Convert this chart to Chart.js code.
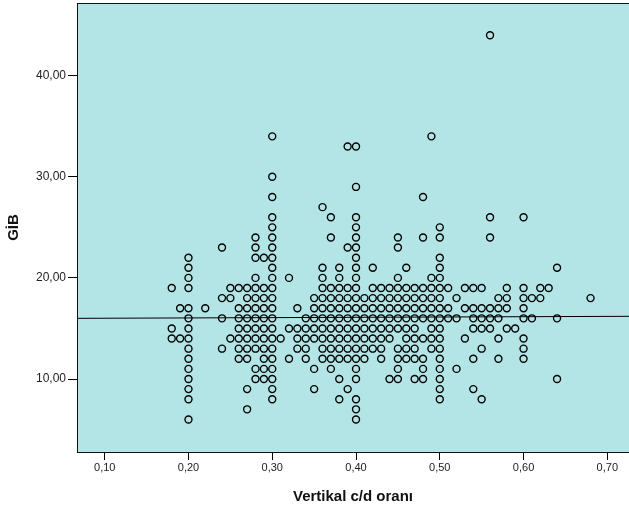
<!DOCTYPE html>
<html>
<head>
<meta charset="utf-8">
<script src="https://cdn.jsdelivr.net/npm/chart.js@4.4.1/dist/chart.umd.min.js"></script>
<style>
  html, body { margin: 0; padding: 0; background: #ffffff; }
  canvas { display: block; }
</style>
</head>
<body>
<canvas id="c" width="629" height="511"></canvas>
<script>
// Vertikal c/d oranı values (in hundredths) observed at each GİB level
const gib6  = [20, 40];
const gib7  = [27, 40];
const gib8  = [20, 30, 38, 40, 50, 55];
const gib9  = [20, 27, 30, 35, 39, 50, 54];
const gib10 = [20, 28, 29, 30, 38, 40, 44, 45, 47, 48, 50, 64];
const gib11 = [20, 28, 29, 30, 35, 37, 40, 45, 48, 50, 52];
const gib12 = [20, 26, 27, 29, 30, 32, 34, 36, 37, 38, 39, 40, 41, 43, 45, 46, 47, 48, 50, 54, 57, 60];
const gib13 = [20, 24, 26, 27, 28, 29, 30, 33, 34, 36, 37, 38, 39, 40, 41, 42, 43, 45, 46, 47, 49, 50, 55, 60];
const gib14 = [18, 19, 20, 25, 26, 27, 28, 29, 30, 31, 33, 34, 35, 36, 37, 38, 39, 40, 41, 42, 43, 44, 46, 47, 48, 49, 50, 53, 57, 60];
const gib15 = [18, 20, 26, 27, 28, 29, 30, 32, 33, 34, 35, 36, 37, 38, 39, 40, 41, 42, 43, 44, 45, 46, 47, 49, 50, 54, 55, 56, 58, 59];
const gib16 = [20, 24, 26, 27, 28, 29, 30, 34, 35, 36, 37, 38, 39, 40, 41, 42, 43, 44, 45, 46, 47, 48, 49, 50, 51, 52, 54, 55, 56, 57, 60, 61, 64];
const gib17 = [19, 20, 22, 26, 27, 28, 29, 30, 33, 35, 36, 37, 38, 39, 40, 41, 42, 43, 44, 45, 46, 47, 48, 49, 50, 51, 53, 54, 55, 56, 57, 58, 60];
const gib18 = [24, 25, 27, 28, 29, 30, 35, 36, 37, 38, 39, 40, 41, 42, 43, 44, 45, 46, 47, 48, 49, 50, 52, 57, 58, 60, 61, 62, 68];
const gib19 = [18, 20, 25, 26, 27, 28, 29, 30, 36, 37, 38, 39, 40, 42, 43, 44, 45, 46, 47, 48, 49, 50, 51, 53, 54, 55, 58, 60, 62, 63];
const gib20 = [20, 28, 30, 32, 36, 38, 40, 45, 49, 50];
const gib21 = [20, 30, 36, 38, 40, 42, 46, 50, 64];
const gib22 = [20, 28, 29, 30, 40, 50];
const gib23 = [24, 28, 30, 39, 40, 45];
const gib24 = [28, 30, 37, 40, 45, 48, 50, 56];
const gib25 = [30, 40, 50];
const gib26 = [30, 37, 40, 56, 60];
const gib27 = [36];
const gib28 = [30, 48];
const gib29 = [40];
const gib30 = [30];
const gib33 = [39, 40];
const gib34 = [30, 49];
const gib44 = [56];

const levels = [
  [6, gib6], [7, gib7], [8, gib8], [9, gib9], [10, gib10], [11, gib11], [12, gib12],
  [13, gib13], [14, gib14], [15, gib15], [16, gib16], [17, gib17], [18, gib18],
  [19, gib19], [20, gib20], [21, gib21], [22, gib22], [23, gib23], [24, gib24],
  [25, gib25], [26, gib26], [27, gib27], [28, gib28], [29, gib29], [30, gib30],
  [33, gib33], [34, gib34], [44, gib44]
];

// Fit line end values (GİB at left and right edges of the plot)
const fitLineY = [16.0, 16.2];

const xTicks = [0.10, 0.20, 0.30, 0.40, 0.50, 0.60, 0.70];
const yTicks = [10, 20, 30, 40];
const xMin = 0.0669, xMax = 0.7259;
const yMin = 2.78, yMax = 47.19;

const xTitle = 'Vertikal c/d oranı';
const yTitle = 'GİB';

const points = [];
levels.forEach(([g, xs]) => xs.forEach(h => points.push({ x: h / 100, y: g })));

const fmt = v => Number(v).toFixed(2).replace('.', ',');

const bgPlugin = {
  id: 'plotbg',
  beforeDraw(chart) {
    const { ctx, chartArea: a } = chart;
    ctx.save();
    ctx.fillStyle = '#b3e5e6';
    ctx.fillRect(a.left, a.top, a.right - a.left, a.bottom - a.top);
    ctx.restore();
  },
  afterDraw(chart) {
    const { ctx, chartArea: a } = chart;
    ctx.save();
    ctx.strokeStyle = '#111';
    ctx.lineWidth = 1;
    ctx.beginPath();
    ctx.moveTo(a.left, a.top + 0.5);
    ctx.lineTo(a.right, a.top + 0.5);
    ctx.stroke();
    ctx.restore();
  }
};

new Chart(document.getElementById('c'), {
  type: 'scatter',
  data: {
    datasets: [
      {
        label: 'GİB',
        data: points,
        pointStyle: 'circle',
        pointRadius: 3.5,
        pointHoverRadius: 3.5,
        pointBorderWidth: 1.4,
        pointBorderColor: '#000',
        pointBackgroundColor: 'rgba(0,0,0,0)',
        showLine: false,
        order: 2
      },
      {
        label: 'fit',
        type: 'line',
        data: [{ x: xMin, y: fitLineY[0] }, { x: xMax, y: fitLineY[1] }],
        borderColor: '#000',
        borderWidth: 1,
        pointRadius: 0,
        fill: false,
        order: 1
      }
    ]
  },
  options: {
    responsive: false,
    animation: false,
    events: [],
    layout: { autoPadding: false, padding: { top: 3, right: 0, left: 0, bottom: 0 } },
    plugins: { legend: { display: false }, tooltip: { enabled: false } },
    scales: {
      x: {
        type: 'linear',
        min: xMin,
        max: xMax,
        afterBuildTicks: s => { s.ticks = xTicks.map(v => ({ value: v })); },
        afterFit: s => { s.height = 59; s.paddingLeft = 0; s.paddingRight = 0; },
        ticks: {
          callback: v => fmt(v),
          font: { family: 'Liberation Sans, Arial, sans-serif', size: 11 },
          color: '#222',
          padding: 1,
          maxRotation: 0,
          autoSkip: false
        },
        grid: { drawOnChartArea: false, drawTicks: true, tickLength: 8, color: '#000', tickWidth: 1 },
        border: { display: true, color: '#111', width: 1 },
        title: {
          display: true,
          text: xTitle,
          font: { family: 'Liberation Sans, Arial, sans-serif', size: 15, weight: 'bold' },
          color: '#111',
          padding: { top: 0, bottom: 5 }
        }
      },
      y: {
        type: 'linear',
        min: yMin,
        max: yMax,
        afterBuildTicks: s => { s.ticks = yTicks.map(v => ({ value: v })); },
        afterFit: s => { s.width = 77; s.paddingTop = 0; s.paddingBottom = 0; },
        ticks: {
          callback: v => fmt(v),
          font: { family: 'Liberation Sans, Arial, sans-serif', size: 12 },
          color: '#222',
          padding: 2,
          autoSkip: false
        },
        grid: { drawOnChartArea: false, drawTicks: true, tickLength: 9, color: '#000', tickWidth: 1 },
        border: { display: true, color: '#111', width: 1 },
        title: {
          display: true,
          text: yTitle,
          font: { family: 'Liberation Sans, Arial, sans-serif', size: 15, weight: 'bold' },
          color: '#111',
          padding: { top: 5, bottom: 0 }
        }
      }
    }
  },
  plugins: [bgPlugin]
});
</script>
</body>
</html>
